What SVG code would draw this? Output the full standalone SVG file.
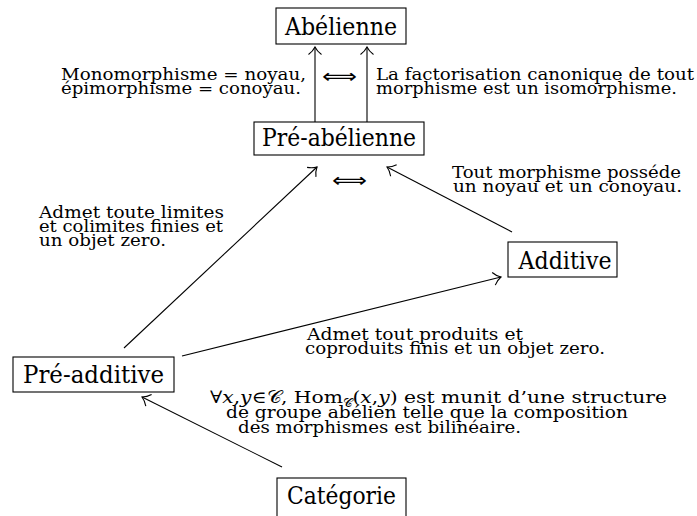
<svg xmlns="http://www.w3.org/2000/svg" width="697" height="516" viewBox="0 0 697 516">
<style>
.box{fill:#fff;stroke:#000;stroke-width:1.1}
.nl{font-family:"DejaVu Serif","Liberation Serif",serif;font-size:24px;text-anchor:middle;fill:#000}
.ann{font-family:"DejaVu Serif","Liberation Serif",serif;font-size:17px;fill:#000}
.edge{stroke:#000;stroke-width:1.1;fill:none;marker-end:url(#arr)}
.iff{font-family:"DejaVu Sans",sans-serif;font-size:20px;fill:#000}
.it{font-style:italic}
</style>
<defs>
<marker id="arr" markerUnits="userSpaceOnUse" viewBox="-10 -9 12 18" refX="0" refY="0" markerWidth="12" markerHeight="18" orient="auto" overflow="visible">
<path d="M -7.5,-6.5 C -5,-3 -2,-1 0,0 C -2,1 -5,3 -7.5,6.5" fill="none" stroke="#000" stroke-width="1.1"/>
</marker>
</defs>
<g id="connectors">
<line class="edge" x1="315" y1="122" x2="315" y2="47"/>
<line class="edge" x1="367" y1="122" x2="367" y2="47"/>
<line class="edge" x1="124" y1="348" x2="317" y2="167"/>
<line class="edge" x1="512" y1="232" x2="387" y2="167"/>
<line class="edge" x1="182" y1="356" x2="501" y2="277"/>
<line class="edge" x1="282" y1="467" x2="142" y2="397"/>
</g>
<g id="abelienne">
<rect class="box" x="276" y="8" width="130" height="36"/>
<text class="nl" x="341" y="35" textLength="112" lengthAdjust="spacingAndGlyphs">Abélienne</text>
</g>
<g id="pre-abelienne">
<rect class="box" x="254" y="122" width="170" height="33"/>
<text class="nl" x="339" y="146" textLength="154" lengthAdjust="spacingAndGlyphs">Pré-abélienne</text>
</g>
<g id="additive">
<rect class="box" x="508" y="242" width="109" height="35"/>
<text class="nl" x="565" y="269" textLength="93" lengthAdjust="spacingAndGlyphs">Additive</text>
</g>
<g id="pre-additive">
<rect class="box" x="13" y="357" width="161" height="35"/>
<text class="nl" x="93.5" y="383" textLength="141" lengthAdjust="spacingAndGlyphs">Pré-additive</text>
</g>
<g id="categorie">
<rect class="box" x="277" y="478" width="129" height="50"/>
<text class="nl" x="341.5" y="504" textLength="109" lengthAdjust="spacingAndGlyphs">Catégorie</text>
</g>
<g id="labels">
<text class="ann" x="61" y="80" textLength="245" lengthAdjust="spacingAndGlyphs">Monomorphisme = noyau,</text>
<text class="ann" x="61" y="94" textLength="240" lengthAdjust="spacingAndGlyphs">épimorphisme = conoyau.</text>
<text class="iff" x="322" y="83" textLength="35" lengthAdjust="spacingAndGlyphs">⟺</text>
<text class="ann" x="376" y="80" textLength="318" lengthAdjust="spacingAndGlyphs">La factorisation canonique de tout</text>
<text class="ann" x="376" y="94" textLength="301" lengthAdjust="spacingAndGlyphs">morphisme est un isomorphisme.</text>
<text class="iff" x="332" y="187" textLength="35" lengthAdjust="spacingAndGlyphs">⟺</text>
<text class="ann" x="39" y="218" textLength="185" lengthAdjust="spacingAndGlyphs">Admet toute limites</text>
<text class="ann" x="39" y="232" textLength="184" lengthAdjust="spacingAndGlyphs">et colimites finies et</text>
<text class="ann" x="39" y="246" textLength="127" lengthAdjust="spacingAndGlyphs">un objet zero.</text>
<text class="ann" x="452" y="178" textLength="229" lengthAdjust="spacingAndGlyphs">Tout morphisme posséde</text>
<text class="ann" x="453" y="192" textLength="229" lengthAdjust="spacingAndGlyphs">un noyau et un conoyau.</text>
<text class="ann" x="307" y="340" textLength="216" lengthAdjust="spacingAndGlyphs">Admet tout produits et</text>
<text class="ann" x="305" y="354" textLength="300" lengthAdjust="spacingAndGlyphs">coproduits finis et un objet zero.</text>
<text class="ann" x="210" y="403" textLength="457" lengthAdjust="spacingAndGlyphs">∀<tspan class="it">x</tspan>,<tspan class="it">y</tspan>∈<tspan font-family="DejaVu Sans, sans-serif">𝒞</tspan>, Hom<tspan font-size="11" dy="4" font-family="DejaVu Sans, sans-serif">𝒞</tspan><tspan dy="-4">(</tspan><tspan class="it">x</tspan>,<tspan class="it">y</tspan>) est munit d’une structure</text>
<text class="ann" x="226" y="418" textLength="402" lengthAdjust="spacingAndGlyphs">de groupe abélien telle que la composition</text>
<text class="ann" x="238" y="433" textLength="283" lengthAdjust="spacingAndGlyphs">des morphismes est bilinéaire.</text>
</g>
</svg>
